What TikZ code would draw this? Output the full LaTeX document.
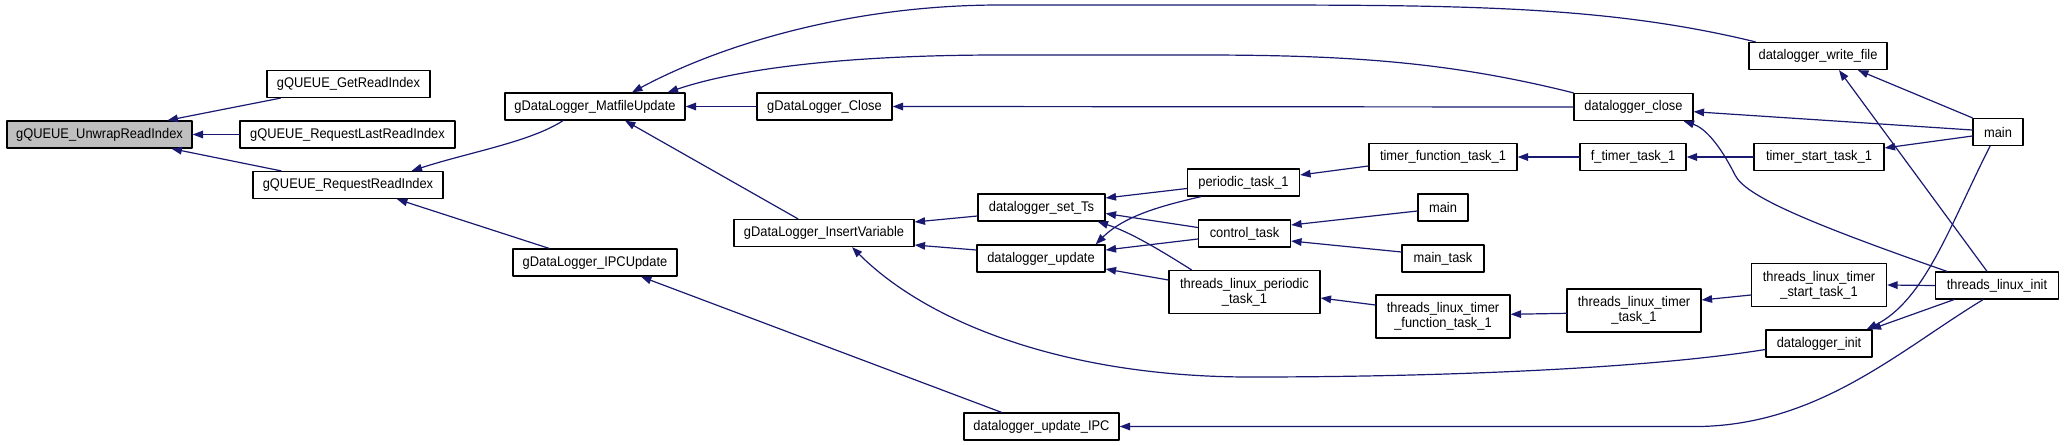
\documentclass[tikz,border=0pt]{standalone}
\usepackage{fontspec}
\setmainfont{Liberation Sans}[FakeStretch=0.92]
\usepackage{xcolor}
\usetikzlibrary{arrows.meta}

\definecolor{dxblue}{HTML}{191970}
\definecolor{dxgray}{HTML}{BFBFBF}

\begin{document}
\begin{tikzpicture}[x=0.5pt, y=-0.5pt, line cap=round, line join=round,
		fn/.style={draw=black, line width=0.65pt, fill=white, inner sep=0pt,
			minimum height=13.5pt, align=center,
			font=\fontsize{7}{7.6}\selectfont},
		fn2/.style={fn, minimum height=21.5pt},
		call/.style={draw=dxblue, line width=0.6pt,
			-{Triangle[length=5.2pt,width=3.8pt]}}]
		
		\useasboundingbox (0,0) rectangle (2064,445);
		
		% Functions, one box each
		\node[fn, fill=dxgray, minimum width=92.5pt] (unwrap) at (99.5,134.5) {gQUEUE\_UnwrapReadIndex};
		\node[fn, minimum width=81.5pt] (getread) at (348.5,84) {gQUEUE\_GetReadIndex};
		\node[fn, minimum width=107.5pt] (reqlast) at (347.5,134.5) {gQUEUE\_RequestLastReadIndex};
		\node[fn, minimum width=95pt] (reqread) at (348,185) {gQUEUE\_RequestReadIndex};
		\node[fn, minimum width=90pt] (matfile) at (595,106.5) {gDataLogger\_MatfileUpdate};
		\node[fn, minimum width=82pt] (ipcupd) at (595,262.5) {gDataLogger\_IPCUpdate};
		\node[fn, minimum width=67.5pt] (close) at (824.5,106.5) {gDataLogger\_Close};
		\node[fn, minimum width=90pt] (insertvar) at (824,233) {gDataLogger\_InsertVariable};
		\node[fn, minimum width=63.5pt] (setts) at (1041.5,207.5) {datalogger\_set\_Ts};
		\node[fn, minimum width=64pt] (update) at (1041,258.5) {datalogger\_update};
		\node[fn, minimum width=77.5pt] (updipc) at (1041.5,426.5) {datalogger\_update\_IPC};
		\node[fn, minimum width=56pt] (periodic) at (1243.5,182.5) {periodic\_task\_1};
		\node[fn, minimum width=46pt] (control) at (1244.5,233.5) {control\_task};
		\node[fn2, minimum width=75.5pt] (tlperiodic) at (1244.5,292) {threads\_linux\_periodic\\\_task\_1};
		\node[fn, minimum width=74pt] (tfunc) at (1443,157) {timer\_function\_task\_1};
		\node[fn, minimum width=25pt] (main1) at (1443,207.5) {main};
		\node[fn, minimum width=41pt] (maintask) at (1443,258.5) {main\_task};
		\node[fn2, minimum width=67pt] (tltfunc) at (1443,316.5) {threads\_linux\_timer\\\_function\_task\_1};
		\node[fn, minimum width=53pt] (ftimer) at (1633,157) {f\_timer\_task\_1};
		\node[fn2, minimum width=67pt] (tltimer) at (1634,310.5) {threads\_linux\_timer\\\_task\_1};
		\node[fn, minimum width=59.5pt] (dlclose) at (1633.5,107) {datalogger\_close};
		\node[fn, minimum width=69pt] (writefile) at (1818,56) {datalogger\_write\_file};
		\node[fn, minimum width=65pt] (tstart) at (1819,157) {timer\_start\_task\_1};
		\node[fn2, minimum width=67.5pt] (tltstart) at (1819,285) {threads\_linux\_timer\\\_start\_task\_1};
		\node[fn, minimum width=53pt] (dlinit) at (1819,343.5) {datalogger\_init};
		\node[fn, minimum width=25pt] (main2) at (1998,132) {main};
		\node[fn, minimum width=61.5pt] (tlinit) at (1997,285.5) {threads\_linux\_init};
		
		% Callers of the queue functions
		\draw[call] ([xshift=7pt]getread.south west) -- ([xshift=34pt]unwrap.north);
		\draw[call] (reqlast.west) -- (unwrap.east);
		\draw[call] ([xshift=-33.5pt]reqread.north) -- ([xshift=36pt]unwrap.south);
		\draw[call] ([xshift=-16pt]matfile.south) .. controls (530,142) and (470,152) .. ([xshift=-16pt]reqread.north east);
		\draw[call] ([xshift=-23pt]ipcupd.north) -- ([xshift=24.5pt]reqread.south);
		
		% Callers of the logger
		\draw[call] ([xshift=3.5pt]writefile.north west) .. controls (1600,4) and (1450,5) .. (1200,5) -- (1000,5) .. controls (850,5) and (720,45) .. ([xshift=18.5pt]matfile.north);
		\draw[call] (dlclose.north west) .. controls (1450,62) and (1350,55) .. (1200,55) -- (1000,55) .. controls (850,55) and (740,68) .. ([xshift=-9pt]matfile.north east);
		\draw[call] (close.west) -- (matfile.east);
		\draw[call] ([xshift=-13pt]insertvar.north) -- ([xshift=15pt]matfile.south);
		\draw[call] (dlclose.west) -- (close.east);
		\draw[call] ([xshift=-20pt]updipc.north) -- ([xshift=23pt]ipcupd.south);
		\draw[call] ([yshift=-4.25pt]setts.west) -- ([yshift=5.5pt]insertvar.east);
		\draw[call] ([yshift=4.25pt]update.west) -- ([yshift=-6pt]insertvar.east);
		\draw[call] ([yshift=-3pt]dlinit.west) .. controls (1650,368) and (1450,377) .. (1250,377) .. controls (1070,377) and (930,325) .. ([xshift=14pt]insertvar.south);
		
		% Tasks
		\draw[call] ([yshift=-3pt]periodic.west) -- ([yshift=4.75pt]setts.east);
		\draw[call] ([yshift=3pt]control.west) -- ([yshift=-3pt]setts.east);
		\draw[call] ([xshift=-26.5pt]tlperiodic.north) .. controls (1160,250) and (1130,232) .. ([xshift=-4pt]setts.south east);
		\draw[call] ([xshift=7pt]periodic.south west) .. controls (1165,205) and (1125,215) .. ([xshift=-5pt]update.north east);
		\draw[call] ([yshift=-2.75pt]control.west) -- ([yshift=4.25pt]update.east);
		\draw[call] ([yshift=6pt]tlperiodic.west) -- ([yshift=-5.25pt]update.east);
		\draw[call] ([yshift=-4.5pt]tfunc.west) -- ([yshift=3.75pt]periodic.east);
		\draw[call] ([yshift=-1.75pt]main1.west) -- ([yshift=4.25pt]control.east);
		\draw[call] ([yshift=3.25pt]maintask.west) -- ([yshift=-3.75pt]control.east);
		\draw[call] ([yshift=5.75pt]tltfunc.west) -- ([yshift=-3pt]tlperiodic.east);
		\draw[call] (ftimer.west) -- (tfunc.east);
		\draw[call] (tstart.west) -- (ftimer.east);
		\draw[call] ([yshift=-2pt]main2.west) -- ([yshift=4.5pt]tstart.east);
		\draw[call] ([yshift=-1.4pt]tltimer.west) -- ([yshift=1.1pt]tltfunc.east);
		\draw[call] ([yshift=-5pt]tltstart.west) -- ([yshift=5.25pt]tltimer.east);
		\draw[call] (tlinit.west) -- (tltstart.east);
		
		% Entry points
		\draw[call] ([yshift=1pt]main2.west) -- ([yshift=-2.35pt]dlclose.east);
		\draw[call] ([xshift=6pt]tlinit.north west) .. controls (1800,220) and (1745,195) .. (1735,175) .. controls (1720,145) and (1705,128) .. ([xshift=-5pt]dlclose.south east);
		\draw[call] (main2.north west) -- ([xshift=20pt]writefile.south);
		\draw[call] ([xshift=-5pt]tlinit.north) -- ([xshift=10.5pt]writefile.south);
		\draw[call] ([xshift=9.5pt]tlinit.south west) -- ([xshift=-1pt]dlinit.north east);
		\draw[call] ([xshift=-4pt]main2.south) .. controls (1950,225) and (1925,300) .. ([xshift=-3pt]dlinit.north east);
		\draw[call] ([xshift=-7pt]tlinit.south) .. controls (1900,350) and (1820,424) .. (1700,426.5) -- (updipc.east);
		
	\end{tikzpicture}
\end{document}
